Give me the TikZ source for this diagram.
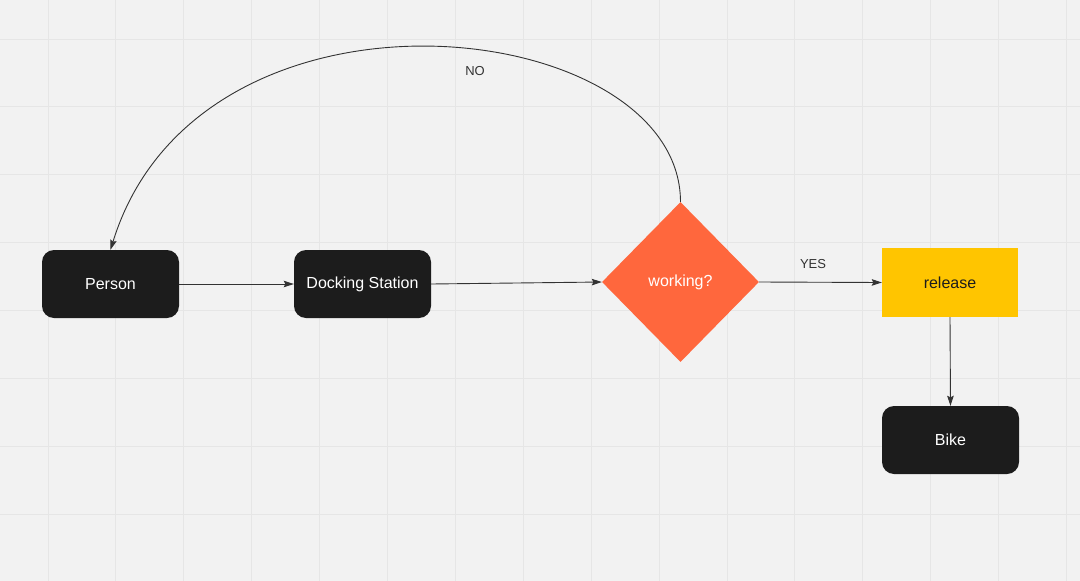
\documentclass[tikz,border=0pt]{standalone}
\usepackage{fontspec}
\setmainfont{Liberation Sans}
\usetikzlibrary{shapes.geometric,arrows.meta}
\definecolor{bg}{HTML}{F2F2F2}
\definecolor{gridc}{HTML}{E6E6E6}
\definecolor{boxc}{HTML}{1C1C1C}
\definecolor{diac}{HTML}{FF673D}
\definecolor{relc}{HTML}{FFC500}
\definecolor{linec}{HTML}{333333}
\tikzset{
  darkbox/.style={rectangle, rounded corners=12pt, fill=boxc, text=white, minimum width=137pt, minimum height=68pt, inner sep=0pt, font=\fontsize{16}{19}\selectfont},
  decision/.style={diamond, fill=diac, text=white, minimum width=157pt, minimum height=160pt, inner sep=0pt, font=\fontsize{16}{19}\selectfont},
  yellowbox/.style={rectangle, fill=relc, text=boxc, minimum width=136pt, minimum height=69pt, inner sep=0pt, font=\fontsize{16}{19}\selectfont},
  conn/.style={draw=linec, line width=0.9pt, -{Stealth[length=10pt,width=6.5pt,inset=1.5pt]}},
  lbl/.style={text=linec, font=\fontsize{13}{15}\selectfont, inner sep=0pt},
  gridline/.style={draw=gridc, line width=1pt}
}
\begin{document}
\begin{tikzpicture}[x=1pt,y=-1pt]
\fill[bg] (0,0) rectangle (1080,581);
\useasboundingbox (0,0) rectangle (1080,581);
\foreach \k in {0,...,15} {\draw[gridline] ({48+67.9*\k},0) -- ({48+67.9*\k},581);}
\foreach \k in {0,...,7} {\draw[gridline] (0,{39+67.9*\k}) -- (1080,{39+67.9*\k});}

\node[darkbox] (p) at (110.5,284) {Person};
\node[darkbox] (ds) at (362.5,284) {Docking Station};
\node[decision] (d) at (680.5,282) {working?};
\node[yellowbox] (r) at (950,282.5) {release};
\node[darkbox] (b) at (950.5,440) {Bike};

\draw[conn] (p.east) -- (ds.west);
\draw[conn] (ds.east) -- (d.west);
\draw[conn] (d.east) -- (r.west);
\draw[conn] (r.south) -- (b.north);
\draw[conn] (d.north) .. controls (680,15) and (200,-40) .. (p.north);

\node[lbl] (no) at (475,71) {NO};
\node[lbl] (yes) at (813,264) {YES};
\end{tikzpicture}
\end{document}
